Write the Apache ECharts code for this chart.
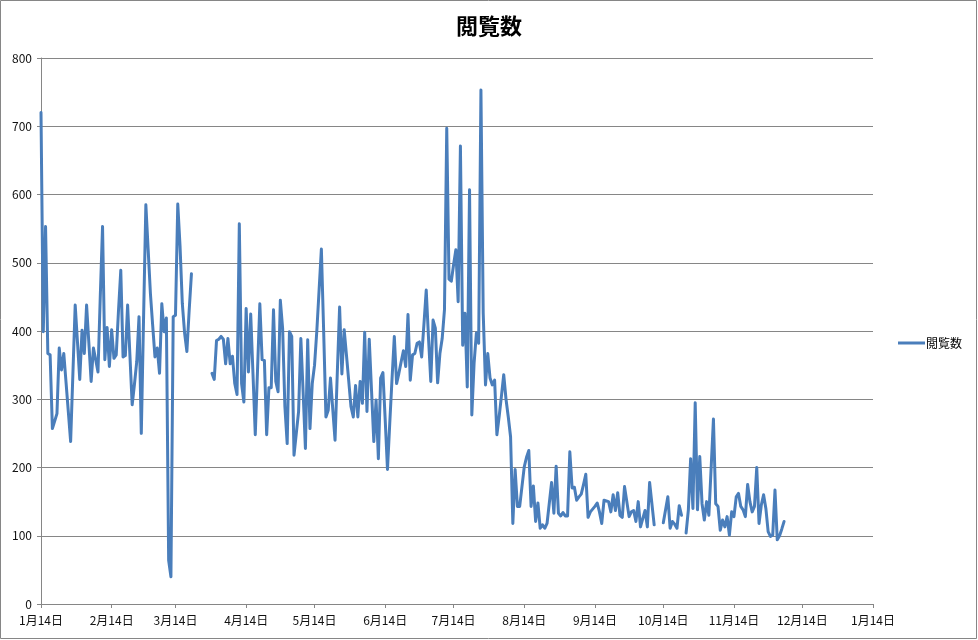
<!DOCTYPE html>
<html>
<head>
<meta charset="utf-8">
<script src="https://cdn.jsdelivr.net/npm/echarts@6/dist/echarts.min.js"></script>
<style>
html,body{margin:0;padding:0;background:#fff;}
#chart{width:978px;height:640px;}
</style>
</head>
<body>
<div id="chart"></div>
<script>
// Daily values from 1月14日 (index 0); null = no data
const startDate = [2013, 0, 14];
const dayCount = 366;
const seriesName = '閲覧数';
const views = [
720,399,553,367,365,257,268,279,375,343,
367,324,281,238,338,438,384,329,401,367,
438,382,326,375,358,340,450,553,358,405,
348,402,360,365,430,489,362,364,438,365,
292,322,355,421,250,420,585,520,455,408,
362,375,338,440,399,419,64,40,421,423,
586,524,440,397,370,430,484,null,null,null,
null,null,null,null,null,338,329,386,388,392,
388,352,389,352,363,323,307,557,323,296,
433,340,425,337,248,344,440,358,357,248,
317,317,431,326,311,445,404,289,235,399,
392,218,250,282,389,310,228,387,257,323,
350,400,460,520,400,274,284,331,285,240,
340,435,337,402,365,327,289,274,320,274,
326,294,398,282,388,313,238,299,213,331,
339,270,197,265,330,392,323,338,355,371,
348,424,328,365,367,382,384,362,410,460,
390,326,416,404,324,367,389,431,697,476,
473,497,519,443,671,379,426,318,607,277,
353,397,382,753,426,321,367,331,321,328,
248,275,305,336,300,274,245,118,197,143,
143,172,201,215,225,143,173,121,148,111,
116,111,118,148,178,133,202,133,129,134,
129,129,223,170,171,152,157,161,175,190,
127,135,139,143,148,135,118,152,151,150,
135,160,137,163,130,127,172,150,128,135,
137,121,150,113,125,137,113,178,147,116,
null,null,null,119,138,157,111,121,117,111,
144,130,null,104,138,213,140,295,138,216,
147,123,150,130,200,271,147,143,108,123,
113,128,101,135,128,157,162,143,138,128,
175,150,135,143,200,118,145,160,140,106,
99,101,167,94,100,110,121
];
const yTicks = {min: 0, max: 800, interval: 100};

const categories = [];
for (let i = 0; i < dayCount; i++) {
  const d = new Date(Date.UTC(startDate[0], startDate[1], startDate[2] + i));
  categories.push(d.getUTCFullYear() + '-' + (d.getUTCMonth() + 1) + '-' + d.getUTCDate());
}
const data = categories.map((c, i) => (i < views.length ? views[i] : null));
const isTickDay = (idx, val) => val.split('-')[2] === '14';

const chart = echarts.init(document.getElementById('chart'), null, {renderer: 'canvas'});
const FONT = '"Noto Sans CJK JP", "Noto Sans", sans-serif';
chart.setOption({
  animation: false,
  backgroundColor: '#ffffff',
  textStyle: {fontFamily: FONT},
  title: {
    text: '閲覧数',
    left: 'center',
    top: 10,
    textStyle: {fontSize: 22, fontWeight: 'bold', color: '#000', fontFamily: FONT}
  },
  legend: {
    orient: 'vertical',
    left: 893,
    top: 332,
    icon: 'rect',
    itemWidth: 27,
    itemHeight: 3,
    itemGap: 5,
    textStyle: {fontSize: 12, color: '#000', fontFamily: FONT, padding: [0, 0, 0, -4]},
    data: [{name: seriesName, icon: 'rect', itemStyle: {color: '#4a7ebb'}}]
  },
  grid: {left: 41, right: 105, top: 58, bottom: 36, containLabel: false},
  xAxis: {
    type: 'category',
    boundaryGap: false,
    data: categories,
    axisLine: {lineStyle: {color: '#868686', width: 1}},
    axisTick: {show: true, interval: isTickDay, length: 4, lineStyle: {color: '#868686'}},
    axisLabel: {
      interval: isTickDay,
      margin: 10,
      fontSize: 12,
      color: '#111',
      fontFamily: FONT,
      formatter: (val) => {
        const p = val.split('-');
        return p[1] + '月' + p[2] + '日';
      }
    },
    splitLine: {show: false}
  },
  yAxis: {
    type: 'value',
    min: yTicks.min,
    max: yTicks.max,
    interval: yTicks.interval,
    axisLine: {show: true, lineStyle: {color: '#868686', width: 1}},
    axisTick: {show: true, length: 4, lineStyle: {color: '#868686'}},
    axisLabel: {fontSize: 12, color: '#111', margin: 9, fontFamily: FONT},
    splitLine: {show: true, lineStyle: {color: '#868686', width: 1}}
  },
  series: [{
    name: seriesName,
    type: 'line',
    data: data,
    symbol: 'none',
    connectNulls: false,
    lineStyle: {color: '#4a7ebb', width: 3, join: 'round', cap: 'round'},
    itemStyle: {color: '#4a7ebb'}
  }],
  graphic: [{
    type: 'rect',
    shape: {x: 0.5, y: 0.5, width: 976, height: 638},
    style: {fill: null, stroke: '#868686', lineWidth: 1},
    silent: true
  }]
});
</script>
</body>
</html>
